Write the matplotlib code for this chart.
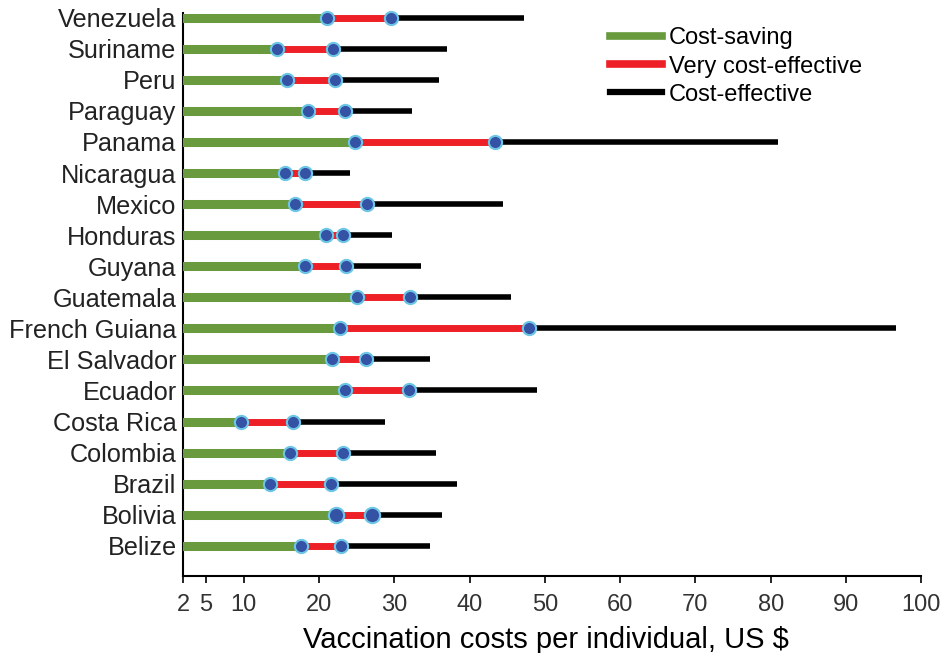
import numpy as np
import matplotlib.pyplot as plt
from matplotlib.lines import Line2D

plt.rcParams['font.family'] = ['Liberation Sans', 'DejaVu Sans']

# countries listed bottom -> top
countries = ['Belize', 'Bolivia', 'Brazil', 'Colombia', 'Costa Rica', 'Ecuador',
             'El Salvador', 'French Guiana', 'Guatemala', 'Guyana', 'Honduras',
             'Mexico', 'Nicaragua', 'Panama', 'Paraguay', 'Peru', 'Suriname',
             'Venezuela']
# upper bound of cost-saving range (US $)
cost_saving = [17.6, 22.2, 13.5, 16.2, 9.6, 23.4, 21.7, 22.8, 25.1, 18.1, 20.9,
               16.8, 15.5, 24.8, 18.6, 15.8, 14.4, 21.0]
# upper bound of very cost-effective range
very_ce = [22.9, 27.1, 21.6, 23.2, 16.5, 31.9, 26.3, 47.9, 32.1, 23.6, 23.2,
           26.4, 18.2, 43.4, 23.4, 22.1, 21.8, 29.6]
# upper bound of cost-effective range
cost_eff = [34.8, 36.4, 38.3, 35.5, 28.8, 48.9, 34.8, 96.7, 45.5, 33.5, 29.7,
            44.4, 24.1, 81.0, 32.3, 35.9, 37.0, 47.2]

xticks = [2, 5, 10, 20, 30, 40, 50, 60, 70, 80, 90, 100]

GREEN = '#6a9a3e'
RED = '#ee2027'
DOT = '#3553a4'
DOT_EDGE = '#6cc6e6'

fig = plt.figure(figsize=(9.41, 6.53), dpi=100)
ax = fig.add_axes([0.195, 0.118, 0.784, 0.862])

y = np.arange(len(countries))
for i in range(len(countries)):
    ax.plot([very_ce[i], cost_eff[i]], [y[i], y[i]], color='black', lw=4.0,
            solid_capstyle='butt', zorder=2)
    ax.plot([cost_saving[i], very_ce[i]], [y[i], y[i]], color=RED, lw=5.0,
            solid_capstyle='butt', zorder=3)
    ax.plot([0, cost_saving[i]], [y[i], y[i]], color=GREEN, lw=6.5,
            solid_capstyle='butt', zorder=4)
    ms = 11 if countries[i] == 'Bolivia' else 9.5
    ax.plot([cost_saving[i], very_ce[i]], [y[i], y[i]], 'o', color=DOT,
            ms=ms, mec=DOT_EDGE, mew=1.5, zorder=5, clip_on=False)

ax.set_xlim(2, 100)
ax.set_ylim(-0.97, 17.15)
ax.set_xticks(xticks)
ax.set_xticklabels([str(t) for t in xticks])
ax.set_yticks(y)
ax.set_yticklabels(countries)
ax.tick_params(axis='y', length=0, pad=5, labelsize=18.2, labelcolor='#222222')
ax.tick_params(axis='x', length=5, width=1.2, pad=8, labelsize=17,
               labelcolor='#333333')
ax.spines['top'].set_visible(False)
ax.spines['right'].set_visible(False)
ax.spines['left'].set_linewidth(1.5)
ax.spines['bottom'].set_linewidth(1.5)
ax.set_xlabel('Vaccination costs per individual, US $', fontsize=21, labelpad=7,
              x=0.491)

handles = [Line2D([], [], color=GREEN, lw=5.5),
           Line2D([], [], color=RED, lw=5.5),
           Line2D([], [], color='black', lw=4.5)]
fig.legend(handles, ['Cost-saving', 'Very cost-effective', 'Cost-effective'],
           loc='upper left', bbox_to_anchor=(0.648, 0.958), frameon=False,
           fontsize=17, handlelength=2.2, handletextpad=0.3,
           labelspacing=0.26, borderpad=0, borderaxespad=0)

fig.savefig('out.png', dpi=100)
